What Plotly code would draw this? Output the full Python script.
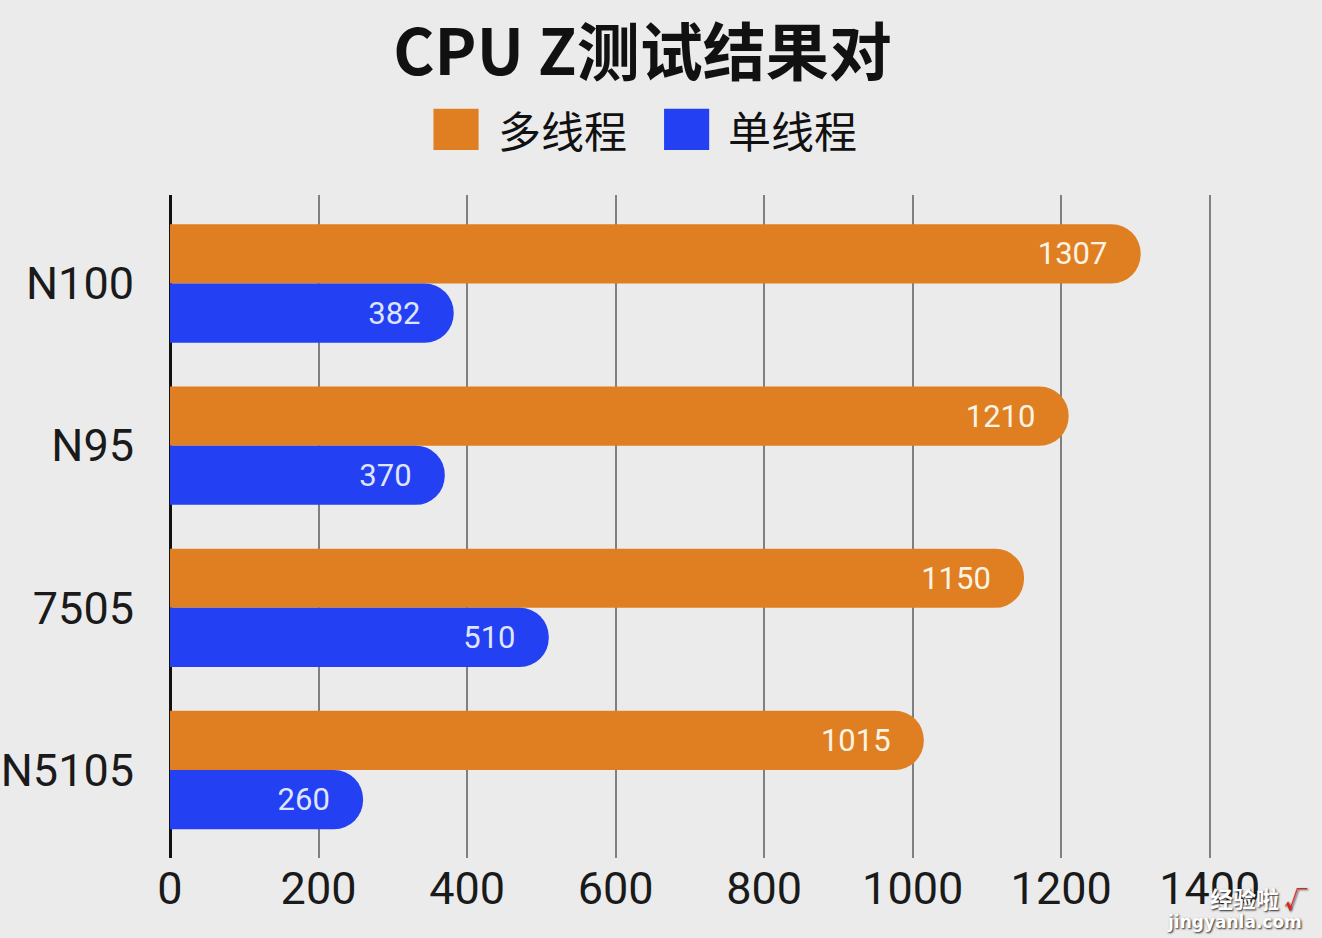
import plotly.graph_objects as go

cpus = ['N100', 'N95', '7505', 'N5105']
multi_thread = [1307, 1210, 1150, 1015]
single_thread = [382, 370, 510, 260]
x_ticks = [0, 200, 400, 600, 800, 1000, 1200, 1400]

ORANGE = '#e07f21'
BLUE = '#2340f2'
BG = '#ebebec'
FONT = 'Noto Sans CJK SC'
PAD = '\u00a0\u00a0\u00a0'  # keeps the value clear of the rounded end

fig = go.Figure()
fig.add_trace(go.Bar(
    y=cpus, x=multi_thread, orientation='h', name='多线程',
    marker=dict(color=ORANGE, cornerradius='50%', line=dict(width=0)),
    texttemplate='%{x}' + PAD, textposition='inside', insidetextanchor='end',
    textfont=dict(family='Roboto', size=31, color='#fbf3e4'),
))
fig.add_trace(go.Bar(
    y=cpus, x=single_thread, orientation='h', name='单线程',
    marker=dict(color=BLUE, cornerradius='50%', line=dict(width=0)),
    texttemplate='%{x}' + PAD, textposition='inside', insidetextanchor='end',
    textfont=dict(family='Roboto', size=31, color='#dfe4ff'),
))

# legend drawn by hand to get the big square keys
legend_items = [('多线程', ORANGE, 0.2365), ('单线程', BLUE, 0.4435)]
for label, color, x0 in legend_items:
    fig.add_shape(type='rect', xref='paper', yref='paper',
                  x0=x0, x1=x0 + 0.0405, y0=1.068, y1=1.13,
                  fillcolor=color, line=dict(width=0))
    fig.add_annotation(text=label, xref='paper', yref='paper',
                       x=x0 + 0.056, y=1.099, xanchor='left', yanchor='middle',
                       showarrow=False, font=dict(family=FONT, size=43, color='#111'))

# watermark
fig.add_annotation(text='经验啦 <span style="color:#e0201c">√</span>',
                   xref='paper', yref='paper', x=1.022, y=-0.06,
                   xanchor='right', yanchor='middle', showarrow=False,
                   font=dict(family=FONT, size=23, color='white', weight='bold',
                             shadow='1px 1px 2px #222'))
fig.add_annotation(text='jingyanla.com',
                   xref='paper', yref='paper', x=1.018, y=-0.097,
                   xanchor='right', yanchor='middle', showarrow=False,
                   font=dict(family='DejaVu Sans', size=17, color='white', weight='bold',
                             shadow='1px 1px 2px #222'))

fig.update_layout(
    width=1322, height=938,
    title=dict(text='CPU Z测试结果对', x=0.486, xanchor='center', y=0.944, yanchor='middle',
               font=dict(family=FONT, size=63, color='#111', weight='bold')),
    showlegend=False,
    barmode='group', bargap=0.27, bargroupgap=0,
    paper_bgcolor=BG, plot_bgcolor=BG,
    margin=dict(l=170, r=38, t=195, b=80),
    xaxis=dict(range=[0, 1500], tickvals=x_ticks, showgrid=True, gridcolor='#808080',
               gridwidth=2, zeroline=True, zerolinecolor='#111', zerolinewidth=3,
               showline=False, ticklabelstandoff=0, automargin=False,
               tickfont=dict(family='Roboto', size=45, color='#1a1a1a')),
    yaxis=dict(range=[3.5425, -0.5456], showgrid=False, ticklabelstandoff=35, automargin=False,
               tickfont=dict(family='Roboto', size=45, color='#1a1a1a')),
)

fig.write_html('out.html', config={'displayModeBar': False},
               post_script="document.body.style.margin='0';")
